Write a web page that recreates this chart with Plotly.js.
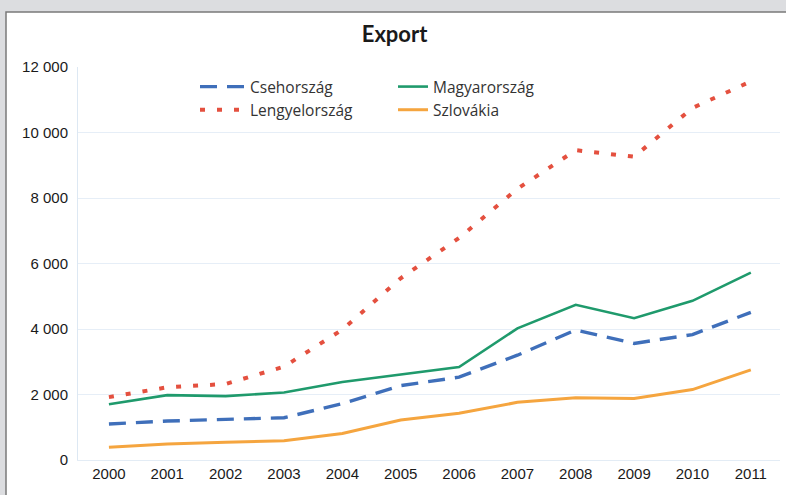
<!DOCTYPE html>
<html>
<head>
<meta charset="utf-8">
<script src="https://cdn.plot.ly/plotly-3.0.1.min.js"></script>
<style>html,body{margin:0;padding:0;background:#dcdde0;}#chart{width:786px;height:495px;}</style>
</head>
<body>
<div id="chart"></div>
<script>
const years = [2000, 2001, 2002, 2003, 2004, 2005, 2006, 2007, 2008, 2009, 2010, 2011];
const csehorszag = [1100, 1190, 1240, 1290, 1720, 2270, 2530, 3200, 3970, 3560, 3830, 4510];
const magyarorszag = [1700, 1980, 1950, 2060, 2380, 2620, 2840, 4020, 4740, 4330, 4860, 5720];
const lengyelorszag = [1920, 2220, 2320, 2850, 3980, 5550, 6780, 8280, 9460, 9260, 10750, 11560];
const szlovakia = [390, 490, 540, 590, 810, 1220, 1430, 1760, 1900, 1880, 2150, 2750];
const yTicks = [0, 2000, 4000, 6000, 8000, 10000, 12000];

const traces = [
  {x: years, y: szlovakia, name: 'Szlovákia', mode: 'lines', legend: 'legend2', legendrank: 2,
   line: {color: '#f5a53f', width: 3}},
  {x: years, y: magyarorszag, name: 'Magyarország', mode: 'lines', legend: 'legend2', legendrank: 1,
   line: {color: '#1f9a6c', width: 2.6}},
  {x: years, y: csehorszag, name: 'Csehország', mode: 'lines', legend: 'legend', legendrank: 1,
   line: {color: '#3f6fba', width: 3.4, dash: '17px,10px'}},
  {x: years, y: lengyelorszag, name: 'Lengyelország', mode: 'lines', legend: 'legend', legendrank: 2,
   line: {color: '#e4503f', width: 4, dash: '5px,12px'}}
];

const W = 702, H = 393, L = 78, T = 67;
const px = v => (v - L) / W;
const py = v => (T + H - v) / H;
const legFont = {family: 'Open Sans, sans-serif', size: 15.5, color: '#333'};
const tickFont = {family: 'Liberation Sans, Arial, sans-serif', size: 15, color: '#1a1a1a'};

const layout = {
  width: 786, height: 495,
  margin: {l: 78, r: 6, t: 67, b: 35},
  paper_bgcolor: '#dcdde0',
  plot_bgcolor: 'rgba(0,0,0,0)',
  separators: '. ',
  showlegend: true,
  title: {text: '<b>Export</b>', x: 0.502, xref: 'container', y: 1 - 34/495, yref: 'container',
          xanchor: 'center', yanchor: 'middle', font: {family: 'Lato, sans-serif', size: 22, color: '#1a1a1a'}},
  xaxis: {range: [1999.47, 2011.5], tickvals: years, ticktext: years.map(String), showgrid: false,
          zeroline: false, showline: true, linecolor: '#e3ecf5', linewidth: 1, ticks: '',
          tickfont: tickFont},
  yaxis: {range: [0, 12000], tickvals: yTicks, tickformat: ',d', showgrid: true, gridcolor: '#e6eef7',
          zeroline: false, showline: true, linecolor: '#dde8f3', linewidth: 1, ticks: '',
          ticklabelstandoff: 6, tickfont: tickFont},
  legend: {x: px(195), y: py(70), xanchor: 'left', yanchor: 'top', bgcolor: 'rgba(0,0,0,0)',
           itemwidth: 45, font: legFont, tracegroupgap: 0},
  legend2: {x: px(393), y: py(70), xanchor: 'left', yanchor: 'top', bgcolor: 'rgba(0,0,0,0)',
           font: legFont, tracegroupgap: 0},
  shapes: [
    {type: 'rect', xref: 'paper', yref: 'paper', x0: px(6), x1: px(800), y0: py(500), y1: py(12),
     fillcolor: '#ffffff', line: {color: '#7a7a7a', width: 1.5}, layer: 'below'}
  ]
};

Plotly.newPlot('chart', traces, layout, {displayModeBar: false, staticPlot: true});
</script>
</body>
</html>
